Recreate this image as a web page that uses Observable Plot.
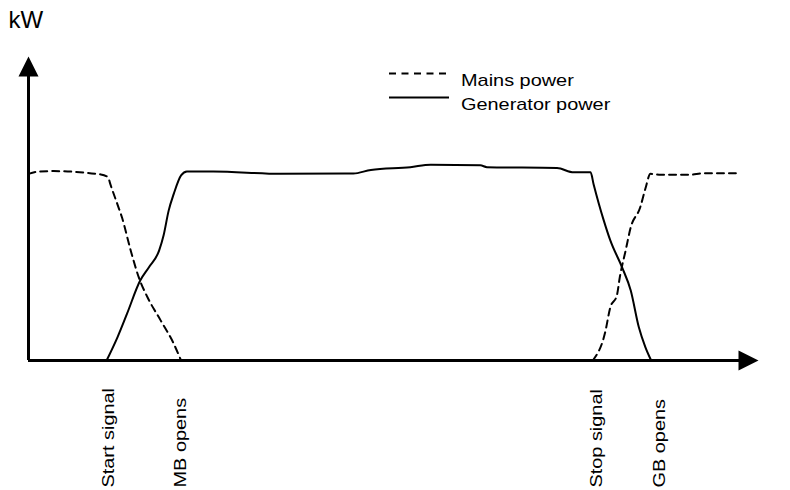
<!DOCTYPE html>
<html><head><meta charset="utf-8">
<script src="https://cdn.jsdelivr.net/npm/d3@7"></script>
<script src="https://cdn.jsdelivr.net/npm/@observablehq/plot@0.6"></script>
<style>
html,body{margin:0;padding:0;background:#fff;}
#chart{width:790px;height:490px;}
svg text{font-family:"Liberation Sans",Arial,Helvetica,sans-serif;}
</style></head><body><div id="chart"></div>
<script>
// time in % of the sequence, power in % of axis height
const mainsTime  = [0, 1.6, 3.4, 9.9, 10.9, 11.2, 12.4, 12.8, 14.0, 15.1, 16.3, 18.1, 19.9, 20.9,
                    50,
                    77.3, 79.0, 79.7, 80.6, 81.0, 81.8, 82.5, 83.8, 84.5, 85.2, 86.6, 90.7, 92.3, 96.9];
const mainsPower = [61.4, 62.2, 62.3, 61.2, 60.3, 58.1, 49.9, 47.1, 36.2, 27.4, 20.8, 13.2, 5.5, 0,
                    null,
                    0, 9.3, 17.5, 21.4, 27.4, 36.2, 43.8, 50.4, 56.5, 61.4, 61.1, 61.1, 61.6, 61.6];
const genTime  = [10.7, 12.2, 13.5, 15.3, 16.5, 17.9, 18.5, 19.2, 19.9, 20.9, 21.7, 25.3, 34.5, 44.5,
                  46.9, 52.3, 55.1, 61.9, 62.8, 72.4, 74.7, 77.0, 77.4, 78.8, 79.7, 81.3, 82.5, 83.6, 84.5, 85.3];
const genPower = [0, 7.7, 15.4, 26.3, 30.7, 36.2, 41.1, 49.3, 54.8, 60.9, 62.2, 62.2, 61.4, 61.5,
                  62.7, 63.6, 64.4, 64.2, 63.6, 63.3, 61.9, 61.9, 58.1, 46.1, 39.5, 30.7, 23.0, 11.0, 4.4, 0];
const eventLabels = ["Start signal", "MB opens", "Stop signal", "GB opens"];
const eventTimes  = [10.9, 20.8, 77.8, 86.4];
const seriesNames = ["Mains power", "Generator power"];
const yLabel = "kW";

const mains = mainsTime.map((t, i) => ({t, p: mainsPower[i]}));
const gen = genTime.map((t, i) => ({t, p: genPower[i]}));
const events = eventLabels.map((label, i) => ({label, t: eventTimes[i]}));

const plot = Plot.plot({
  width: 790, height: 490,
  marginLeft: 28, marginRight: 32, marginTop: 56, marginBottom: 130,
  x: {domain: [0, 100], axis: null},
  y: {domain: [0, 100], axis: null},
  marks: [
    Plot.line(mains, {x: "t", y: "p", stroke: "black", strokeWidth: 2, strokeDasharray: "7,5", curve: "monotone-x"}),
    Plot.line(gen, {x: "t", y: "p", stroke: "black", strokeWidth: 2, curve: "monotone-x"}),
    Plot.ruleX([0], {y1: 0, y2: 96, stroke: "black", strokeWidth: 3}),
    Plot.ruleY([0], {x1: 0, x2: 98, stroke: "black", strokeWidth: 3}),
    Plot.vector([0], {x: 0, y: 100, length: 20, r: 10, shape: "spike", anchor: "end", rotate: 0, fill: "black", stroke: "none"}),
    Plot.vector([0], {x: 100, y: 0, length: 20, r: 10, shape: "spike", anchor: "end", rotate: 90, fill: "black", stroke: "none"}),
    Plot.text(events, {x: "t", text: "label", frameAnchor: "bottom", rotate: -90, textAnchor: "start", dx: 5.5, dy: 127, fontSize: 17, fill: "black"}),
    Plot.text([yLabel], {frameAnchor: "top-left", textAnchor: "start", lineAnchor: "bottom", dx: -20, dy: -29, fontSize: 24, fill: "black"})
  ]
});
document.getElementById("chart").appendChild(plot);

// legend
const svg = d3.select(plot);
const lg = svg.append("g").attr("text-anchor", "start");
const styles = ["7,5.5", null];
const rowsY = [73.5, 97.5];
seriesNames.forEach((name, i) => {
  lg.append("line").attr("x1", 389).attr("x2", 449).attr("y1", rowsY[i]).attr("y2", rowsY[i])
    .attr("stroke", "black").attr("stroke-width", 2).attr("stroke-dasharray", styles[i]);
  lg.append("text").attr("x", 461).attr("y", rowsY[i] + 12.5).attr("font-size", 17)
    .attr("text-anchor", "start").attr("fill", "black").text(name);
});

// horizontal stretch of the small labels
plot.querySelectorAll("text").forEach(el => {
  if (el.textContent === yLabel) return;
  const len = el.getComputedTextLength();
  el.setAttribute("textLength", (len * 1.17).toFixed(1));
  el.setAttribute("lengthAdjust", "spacingAndGlyphs");
});
</script>
</body></html>
